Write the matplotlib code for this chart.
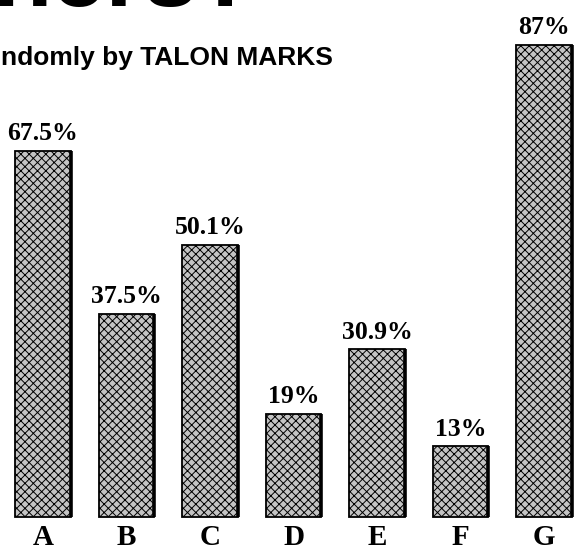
import matplotlib.pyplot as plt
import numpy as np

# survey results, percent
categories = ['A', 'B', 'C', 'D', 'E', 'F', 'G']
values = [67.5, 37.5, 50.1, 19, 30.9, 13, 87]
value_labels = ['67.5%', '37.5%', '50.1%', '19%', '30.9%', '13%', '87%']

subtitle = 'ndomly by TALON MARKS'
headline_tail = 'ners?'

W, H = 578, 554
fig = plt.figure(figsize=(W / 100, H / 100), dpi=100)
ax = fig.add_axes([0, 0, 1, 1])

# pixel layout
px_per_unit = 5.425
base_px = 517
step_px = 83.5
first_px = 43

ax.set_xlim(-first_px / step_px, (W - first_px) / step_px)
ax.set_ylim((base_px - H) / px_per_unit, base_px / px_per_unit)
ax.axis('off')

x = np.arange(len(categories))
bar_w = 0.66

plt.rcParams['hatch.linewidth'] = 0.7
plt.rcParams['hatch.color'] = '#3a3a3a'
bars = ax.bar(x, values, width=bar_w, color='#c4c4c4', edgecolor='black',
              linewidth=1.3, hatch='xxxx', zorder=2)

# heavier shadow line on the right edge of each bar
ax.vlines(x + bar_w / 2, 0, values, color='black', linewidth=2.6, zorder=3)

serif = ['Liberation Serif', 'DejaVu Serif']
for xi, v, lab in zip(x, values, value_labels):
    ax.text(xi, v + 2.0, lab, ha='center', va='baseline', fontsize=18.5,
            fontweight='bold', family=serif)

for xi, c in zip(x, categories):
    ax.text(xi, -5.2, c, ha='center', va='baseline', fontsize=21,
            fontweight='bold', family=serif)

# cut-off headline and subtitle at the top of the clipping
fig.text(1 / W, 1 - 65 / H, subtitle, ha='left', va='baseline', fontsize=19,
         fontweight='bold', family=['Liberation Sans', 'DejaVu Sans'])
fig.text(-8 / W, 1 - 6 / H, headline_tail, ha='left', va='baseline', fontsize=70,
         fontweight='bold', family=['Liberation Sans', 'DejaVu Sans'])

fig.savefig('out.png', dpi=100)
